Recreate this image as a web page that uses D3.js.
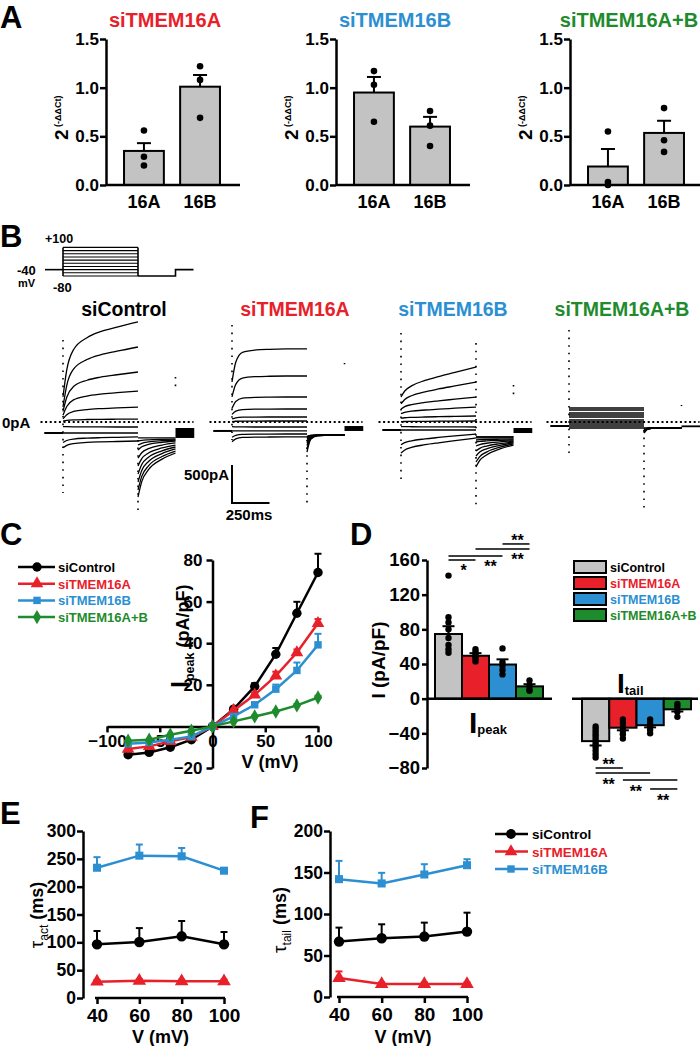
<!DOCTYPE html>
<html lang="en">
<head>
<meta charset="utf-8" />
<title>TMEM16A / TMEM16B knockdown</title>
<script src="https://d3js.org/d3.v7.min.js"></script>
<style>
  html, body { margin:0; padding:0; background-color:#fff; }
  svg { display:block; }
</style>
</head>
<body>
<svg id="svg" width="700" height="1046"></svg>
<script>
const FONT = "'Liberation Sans', Arial, sans-serif";
const colCtrl = "#000000", colA = "#e8202a", colB = "#2b8fd2", colAB = "#1e8b2c";

// ---------- A : qPCR ----------
let genes = ["16A", "16B"];
let qpcrTitles = ["siTMEM16A", "siTMEM16B", "siTMEM16A+B"];
let qpcrMean = [[0.35, 1.01], [0.95, 0.60], [0.19, 0.535]];
let qpcrSem = [[0.08, 0.12], [0.16, 0.10], [0.18, 0.125]];
let qpcrDots = [[[0.56, 0.29, 0.20], [1.22, 1.08, 0.69]],
                [[1.17, 1.03, 0.65], [0.76, 0.61, 0.40]],
                [[0.55, 0.03, 0.00], [0.79, 0.46, 0.34]]];
let qpcrTicks = [0, 0.5, 1.0, 1.5];

// ---------- B : current traces (pA) ----------
let stepMv = [100, 80, 60, 40, 20, 0, -20, -40, -60, -80];
let actT = [0, 25, 70, 160, 250, 360, 500];   // ms into the pulse
let tailT = [0, 25, 70, 160, 250];            // ms into the tail

let ctrlHold = -145;
let ctrlInst = [330, 200, 140, 90, 40, 10, -60, -145, -270, -340];
let ctrlEnd = [1316, 987, 658, 408, 197, 39, -66, -145, -197, -250];
let ctrlAct = [0, 0.36, 0.63, 0.79, 0.87, 0.93, 1];
let ctrlTailStart = [-987, -895, -789, -684, -579, -474, -368, -303, -250, -210];
let ctrlTailEnd = [-408, -382, -355, -329, -303, -276, -250, -237, -224, -210];
let ctrlTail = [0, 0.35, 0.62, 0.86, 1];
let ctrlPost = [-79, -210];
let ctrlSpikes = [[0, 1079, -934], [500, -237, -1197], [750, 592, 421]];

let aHold = -118;
let aInst = [526, 330, 180, 100, 40, 5, -60, -118, -200, -260];
let aEnd = [961, 605, 329, 171, 66, 13, -66, -118, -158, -197];
let aAct = [0, 0.6, 0.9, 0.97, 0.99, 1, 1];
let aTailStart = [-395, -350, -310, -280, -250, -230, -215, -200, -195, -190];
let aTailEnd = [-171, -171, -171, -171, -171, -171, -171, -171, -171, -171];
let aTail = [0, 0.75, 0.95, 1, 1];
let aPost = [-53, -118];
let aSpikes = [[0, 1276, -237], [500, -237, -1066], [750, 776, 760]];

let bHold = -105;
let bInst = [329, 240, 170, 110, 50, 5, -60, -105, -300, -408];
let bEnd = [724, 526, 329, 197, 79, 13, -66, -105, -158, -210];
let bAct = [0, 0.2, 0.37, 0.55, 0.68, 0.82, 1];
let bTailStart = [-592, -526, -447, -382, -316, -263, -237, -210, -197, -197];
let bTailEnd = [-303, -289, -276, -263, -250, -237, -224, -210, -197, -197];
let bTail = [0, 0.3, 0.55, 0.82, 1];
let bPost = [-79, -145];
let bSpikes = [[0, 1171, -803], [500, 1039, -1092], [750, 487, 329]];

let abHold = -53;
let abInst = [184, 158, 118, 92, 66, 26, 0, -26, -53, -79];
let abEnd = [184, 158, 118, 92, 66, 26, 0, -26, -53, -79];
let abAct = [0, 1, 1, 1, 1, 1, 1];
let abTailStart = [-145, -140, -135, -130, -125, -120, -110, -100, -90, -80];
let abTailEnd = [-79, -79, -79, -79, -79, -79, -79, -79, -79, -79];
let abTail = [0, 0.8, 1, 1, 1];
let abPost = [-45, -60];
let abSpikes = [[0, 1211, -408], [500, -105, -1158], [750, 224, 210]];

// ---------- C : I-V ----------
let volts = [-80, -60, -40, -20, 0, 20, 40, 60, 80, 100];
let ivCtrl = [-13.6, -12.5, -10, -6.4, 0, 8.3, 19.2, 34.7, 54.4, 74];
let ivCtrlErr = [0.8, 0.8, 0.8, 0.6, 0, 0.8, 1.6, 3, 5.5, 9];
let ivA = [-10.9, -9.6, -7.2, -5.1, 0, 7.7, 15.2, 24.3, 35.5, 49.6];
let ivAErr = [0.6, 0.6, 0.5, 0.4, 0, 0.5, 1, 2, 1.5, 2];
let ivB = [-8.3, -7.7, -6.4, -4.8, 0, 4.8, 10.4, 17.9, 26.9, 39.2];
let ivBErr = [0.6, 0.5, 0.5, 0.4, 0, 0.5, 0.8, 2.2, 3.8, 5.3];
let ivAB = [-6.9, -6.4, -4, -2.1, 0, 2.4, 4.8, 7.2, 10.1, 13.9];
let ivABErr = [0.4, 0.4, 0.3, 0.3, 0, 0.3, 0.4, 0.5, 0.6, 0.8];

// ---------- D : peak and tail densities ----------
let groups = ["siControl", "siTMEM16A", "siTMEM16B", "siTMEM16A+B"];
let peakMean = [74.6, 49.5, 39.4, 14.2];
let peakSem = [9, 3, 6, 2.5];
let peakDots = [[142, 94, 88, 80, 70, 62, 57, 53], [57, 54, 51, 49, 46, 43], [58, 42, 38, 33, 28], [21, 15, 11, 9]];
let tailMean = [-49, -33.5, -30.6, -12.3];
let tailSem = [5, 3, 2.5, 2.5];
let tailDots = [[-32, -35, -38, -41, -44, -47, -50, -53, -56, -60, -64, -68], [-24, -28, -33, -37, -41, -46], [-24, -28, -32, -36, -40], [-6, -9, -15, -21]];
let peakSig = [[0, 1, 160, "*", 1], [0, 2, 164.6, "**", 1], [1, 3, 172.7, "**", 1], [2, 3, 178.5, "**", -1]];
let tailSig = [[0, 1, -80, "**", -1], [0, 2, -85.8, "**", 1], [1, 3, -93.8, "**", 1], [2, 3, -104.2, "**", 1]];

// ---------- E / F : time constants ----------
let tauV = [40, 60, 80, 100];
let tauActCtrl = [96.4, 100.6, 110.8, 96.4];
let tauActCtrlErr = [24, 25, 27.5, 22.2];
let tauActA = [29.3, 31, 30, 30];
let tauActAErr = [3, 3, 3, 3];
let tauActB = [234, 255.7, 254.5, 228.7];
let tauActBErr = [19, 20, 15, 4];
let tauTailCtrl = [66.8, 70.8, 72.8, 78.8];
let tauTailCtrlErr = [16.8, 16.8, 16.8, 22.8];
let tauTailA = [22.8, 15.6, 15.6, 15.6];
let tauTailAErr = [8, 2, 2, 2];
let tauTailB = [142, 136.8, 147.6, 158.8];
let tauTailBErr = [22, 12.8, 12.4, 7.2];

let svg = d3.select("#svg");

function styleAxis(g, size) {
    g.attr("font-family", FONT).attr("font-size", size).attr("font-weight", "bold");
    g.selectAll(".domain").attr("stroke-width", 2.5);
    g.selectAll(".tick line").attr("stroke-width", 2.5);
}

function txt(parent, x, y, s, size, color, anchor) {
    return parent.append("text").attr("x", x).attr("y", y)
        .attr("font-family", FONT).attr("font-weight", "bold").attr("font-size", size)
        .attr("fill", color || "#000").attr("text-anchor", anchor || "start").text(s);
}

function errorBar(g, data, color, cap) {
    let e = g.append("g").attr("stroke", color).attr("stroke-width", 2);
    data.forEach(d => {
        e.append("line").attr("x1", d.x).attr("x2", d.x).attr("y1", d.y0).attr("y2", d.y1);
        e.append("line").attr("x1", d.x - cap / 2).attr("x2", d.x + cap / 2).attr("y1", d.y1).attr("y2", d.y1);
    });
}

// panel letters
[["A", 0, 28], ["B", 0, 247], ["C", 0, 545], ["D", 350, 545], ["E", 0, 824], ["F", 250, 828]]
    .forEach(d => txt(svg, d[1], d[2], d[0], 31));

// ================= A =================
let yA = d3.scaleLinear().domain([0, 1.5]).range([185, 39]);
let axA = [106, 336, 570];
let titleCol = [colA, colB, colAB];
qpcrTitles.forEach((title, k) => {
    let g = svg.append("g");
    let ax = axA[k];
    let x = d3.scaleBand().domain(genes).range([ax + 4, ax + 128]).paddingInner(0.29).paddingOuter(0.25);
    let cx = d => x(d) + x.bandwidth() / 2;
    g.selectAll(".bar").data(genes).join("rect").attr("class", "bar")
        .attr("x", d => x(d)).attr("width", x.bandwidth())
        .attr("y", (d, i) => yA(qpcrMean[k][i]))
        .attr("height", (d, i) => yA(0) - yA(qpcrMean[k][i]))
        .attr("fill", "#c3c3c3").attr("stroke", "#000").attr("stroke-width", 2);
    errorBar(g, genes.map((d, i) => ({x: cx(d), y0: yA(qpcrMean[k][i]), y1: yA(qpcrMean[k][i] + qpcrSem[k][i])})), "#000", 14);
    genes.forEach((d, i) => {
        g.append("g").selectAll("circle").data(qpcrDots[k][i]).join("circle")
            .attr("cx", cx(d)).attr("cy", v => yA(v)).attr("r", 3.3).attr("fill", "#000");
    });
    g.append("g").attr("transform", `translate(${ax},0)`)
        .call(d3.axisLeft(yA).tickValues(qpcrTicks).tickFormat(d3.format(".1f")).tickSize(6).tickPadding(1).tickSizeOuter(0))
        .call(styleAxis, 17);
    g.append("line").attr("x1", ax).attr("x2", ax + 134).attr("y1", yA(0)).attr("y2", yA(0))
        .attr("stroke", "#000").attr("stroke-width", 2.5);
    genes.forEach(d => txt(g, cx(d), 208, d, 18, "#000", "middle"));
    txt(g, ax + 59, 27, title, 20, titleCol[k], "middle");
    let yl = g.append("text").attr("transform", `translate(${ax - 38},140) rotate(-90)`)
        .attr("font-family", FONT).attr("font-weight", "bold");
    yl.append("tspan").attr("font-size", 19).text("2");
    yl.append("tspan").attr("font-size", 9).attr("dy", -7).text(" (-ΔΔCt)");
});

// ================= B =================
let tB = d3.scaleLinear().domain([0, 250]).range([0, 37.5]);
let iB = d3.scaleLinear().domain([0, 500]).range([422, 384]);
let vB = d3.scaleLinear().domain([-80, 100]).range([276, 247.4]);
let cellX = [63, 232, 401, 569];
let cellTitleX = [124, 295, 453, 622];

// voltage protocol
let gp = svg.append("g").attr("transform", `translate(${cellX[0]},0)`)
    .attr("stroke", "#000").attr("fill", "none").attr("stroke-width", 1.6);
gp.append("path").attr("d", d3.line()([[tB(-120), vB(-40)], [tB(0), vB(-40)]]));
stepMv.forEach(v => gp.append("line").attr("x1", tB(0)).attr("x2", tB(500))
    .attr("y1", vB(v)).attr("y2", vB(v)).attr("stroke-width", 1.1));
[0, 500].forEach(t => gp.append("line").attr("x1", tB(t)).attr("x2", tB(t))
    .attr("y1", vB(-80)).attr("y2", vB(100)));
gp.append("path").attr("d", d3.line()([[tB(500), vB(-80)], [tB(750), vB(-80)], [tB(750), vB(-40)], [tB(870), vB(-40)]]));
txt(svg, 45, 243, "+100", 12.5);
txt(svg, 17, 275, "-40", 13);
txt(svg, 18, 287, "mV", 11);
txt(svg, 53, 292, "-80", 13);

let traceCells = [
    {name: "siControl", color: colCtrl, hold: ctrlHold, inst: ctrlInst, end: ctrlEnd, act: ctrlAct, ts: ctrlTailStart, te: ctrlTailEnd, tail: ctrlTail, post: ctrlPost, spikes: ctrlSpikes},
    {name: "siTMEM16A", color: colA, hold: aHold, inst: aInst, end: aEnd, act: aAct, ts: aTailStart, te: aTailEnd, tail: aTail, post: aPost, spikes: aSpikes},
    {name: "siTMEM16B", color: colB, hold: bHold, inst: bInst, end: bEnd, act: bAct, ts: bTailStart, te: bTailEnd, tail: bTail, post: bPost, spikes: bSpikes},
    {name: "siTMEM16A+B", color: colAB, hold: abHold, inst: abInst, end: abEnd, act: abAct, ts: abTailStart, te: abTailEnd, tail: abTail, post: abPost, spikes: abSpikes}
];

let lineT = d3.line().x(d => tB(d[0])).y(d => iB(d[1])).curve(d3.curveMonotoneX);
traceCells.forEach((c, k) => {
    let g = svg.append("g").attr("transform", `translate(${cellX[k]},0)`);
    g.append("line").attr("x1", tB(-150)).attr("x2", tB(870)).attr("y1", iB(0)).attr("y2", iB(0))
        .attr("stroke", "#000").attr("stroke-width", 2).attr("stroke-dasharray", "2,2.6");
    g.append("line").attr("x1", tB(-125)).attr("x2", tB(0)).attr("y1", iB(c.hold)).attr("y2", iB(c.hold))
        .attr("stroke", "#000").attr("stroke-width", 2);
    let tr = g.append("g").attr("fill", "none").attr("stroke", "#000").attr("stroke-width", k == 3 ? 1.45 : 1.3);
    stepMv.forEach((v, j) => {
        let pts = actT.map((t, i) => [t, c.inst[j] + (c.end[j] - c.inst[j]) * c.act[i]]);
        tr.append("path").attr("d", lineT(pts));
        let tp = tailT.map((t, i) => [500 + t, c.ts[j] + (c.te[j] - c.ts[j]) * c.tail[i]]);
        tr.append("path").attr("d", lineT(tp));
    });
    g.append("rect").attr("x", tB(750)).attr("width", tB(875) - tB(750))
        .attr("y", iB(c.post[0])).attr("height", Math.max(1.8, iB(c.post[1]) - iB(c.post[0])))
        .attr("fill", "#000");
    c.spikes.forEach(s => g.append("line").attr("x1", tB(s[0])).attr("x2", tB(s[0]))
        .attr("y1", iB(s[1])).attr("y2", iB(s[2]))
        .attr("stroke", "#000").attr("stroke-width", 1.6).attr("stroke-dasharray", "1.6,6"));
    txt(svg, cellTitleX[k], 316, c.name, 19.5, c.color, "middle");
});
txt(svg, 2, 428, "0pA", 15);

// scale bar
let sb = svg.append("g").attr("transform", "translate(232,503)");
sb.append("path").attr("d", d3.line()([[0, iB(500) - iB(0)], [0, 0], [tB(250), 0]]))
    .attr("fill", "none").attr("stroke", "#000").attr("stroke-width", 2);
txt(svg, 229, 480, "500pA", 15, "#000", "end");
txt(svg, 249, 520, "250ms", 15, "#000", "middle");

// ================= C =================
let xC = d3.scaleLinear().domain([-100, 100]).range([107, 318]);
let yC = d3.scaleLinear().domain([-20, 80]).range([768, 560]);
let gC = svg.append("g");
gC.append("g").attr("transform", `translate(0,${yC(0)})`)
    .call(d3.axisBottom(xC).tickValues([-100, -50, 0, 50, 100]).tickSize(6).tickPadding(3).tickSizeOuter(0))
    .call(styleAxis, 17);
gC.append("g").attr("transform", `translate(${xC(0)},0)`)
    .call(d3.axisLeft(yC).tickValues([-20, 20, 40, 60, 80]).tickSize(6).tickPadding(4).tickSizeOuter(0))
    .call(styleAxis, 17);

let ivSeries = [
    {name: "siControl", color: colCtrl, sym: d3.symbolCircle, size: 70, v: ivCtrl, e: ivCtrlErr},
    {name: "siTMEM16A", color: colA, sym: d3.symbolTriangle, size: 70, v: ivA, e: ivAErr},
    {name: "siTMEM16B", color: colB, sym: d3.symbolSquare, size: 55, v: ivB, e: ivBErr},
    {name: "siTMEM16A+B", color: colAB, sym: d3.symbolDiamond, size: 60, v: ivAB, e: ivABErr}
];
function drawSeries(g, s, xs, ys, xv) {
    errorBar(g, xv.map((x, i) => ({x: xs(x), y0: ys(s.v[i]), y1: ys(s.v[i] + (s.v[i] < 0 ? -s.e[i] : s.e[i]))})), s.color, 7);
    g.append("path").attr("d", d3.line().x((d, i) => xs(xv[i])).y(d => ys(d))(s.v))
        .attr("fill", "none").attr("stroke", s.color).attr("stroke-width", 2.5);
    g.append("g").selectAll("path").data(s.v).join("path")
        .attr("transform", (d, i) => `translate(${xs(xv[i])},${ys(d)})`)
        .attr("d", d3.symbol(s.sym, s.size)).attr("fill", s.color);
}
ivSeries.forEach(s => drawSeries(gC, s, xC, yC, volts));
ivSeries.forEach((s, i) => {
    let y = 567 + i * 16.7;
    gC.append("line").attr("x1", 18).attr("x2", 55).attr("y1", y).attr("y2", y)
        .attr("stroke", s.color).attr("stroke-width", 2.5);
    gC.append("path").attr("transform", `translate(37,${y})`).attr("d", d3.symbol(s.sym, s.size)).attr("fill", s.color);
    txt(gC, 58, y + 5, s.name, 13, s.color);
});
// y label, anchored at its lower end
let ylC = gC.append("text").attr("transform", "translate(189,688) rotate(-90)")
    .attr("font-family", FONT).attr("font-weight", "bold");
ylC.append("tspan").attr("font-size", 25).text("I");
ylC.append("tspan").attr("font-size", 12.5).attr("dy", 5).text("peak");
ylC.append("tspan").attr("font-size", 18).attr("dy", -5).text(" (pA/pF)");
txt(gC, 270, 768, "V (mV)", 18, "#000", "middle");

// ================= D =================
let yD = d3.scaleLinear().domain([-80, 160]).range([768, 560]);
let xPeak = d3.scaleBand().domain(groups).range([435, 543]);
let xTail = d3.scaleBand().domain(groups).range([582, 691]);
let grpCol = [ "#c3c3c3", colA, colB, colAB ];
let gD = svg.append("g");
function barSet(xs, mean, sem, dots) {
    let cx = i => xs(groups[i]) + xs.bandwidth() / 2;
    gD.append("g").selectAll("rect").data(mean).join("rect")
        .attr("x", (d, i) => xs(groups[i])).attr("width", xs.bandwidth())
        .attr("y", d => Math.min(yD(d), yD(0))).attr("height", d => Math.abs(yD(d) - yD(0)))
        .attr("fill", (d, i) => grpCol[i]).attr("stroke", "#000").attr("stroke-width", 2);
    errorBar(gD, mean.map((m, i) => ({x: cx(i), y0: yD(m), y1: yD(m + (m < 0 ? -sem[i] : sem[i]))})), "#000", 12);
    dots.forEach((ds, i) => gD.append("g").selectAll("circle").data(ds).join("circle")
        .attr("cx", cx(i)).attr("cy", d => yD(d)).attr("r", 3.2).attr("fill", "#000"));
    return cx;
}
let cxP = barSet(xPeak, peakMean, peakSem, peakDots);
let cxT = barSet(xTail, tailMean, tailSem, tailDots);
gD.append("g").attr("transform", "translate(427,0)")
    .call(d3.axisLeft(yD).tickValues([-80, -40, 0, 40, 80, 120, 160]).tickSize(5).tickPadding(2).tickSizeOuter(0))
    .call(styleAxis, 18.5);
gD.append("line").attr("x1", 427).attr("x2", 552).attr("y1", yD(0)).attr("y2", yD(0)).attr("stroke", "#000").attr("stroke-width", 2.5);
gD.append("line").attr("x1", 572).attr("x2", 698).attr("y1", yD(0)).attr("y2", yD(0)).attr("stroke", "#000").attr("stroke-width", 2.5);
peakSig.forEach(s => {
    gD.append("line").attr("x1", cxP(s[0])).attr("x2", cxP(s[1])).attr("y1", yD(s[2])).attr("y2", yD(s[2]))
        .attr("stroke", "#000").attr("stroke-width", 1.5);
    txt(gD, cxP(s[1]) - 12, yD(s[2]) + (s[4] > 0 ? 16 : 2), s[3], 16, "#000", "middle");
});
tailSig.forEach(s => {
    gD.append("line").attr("x1", cxT(s[0])).attr("x2", cxT(s[1])).attr("y1", yD(s[2])).attr("y2", yD(s[2]))
        .attr("stroke", "#000").attr("stroke-width", 1.5);
    txt(gD, cxT(s[0]) + 13, yD(s[2]) + (s[4] > 0 ? 17 : 2), s[3], 16, "#000", "middle");
});
groups.forEach((gname, i) => {
    let y = 567 + i * 16;
    gD.append("rect").attr("x", 574).attr("y", y - 6).attr("width", 32).attr("height", 12)
        .attr("fill", grpCol[i]).attr("stroke", "#000").attr("stroke-width", 2);
    txt(gD, 610, y + 5, gname, 12.5, i == 0 ? "#000" : grpCol[i]);
});
gD.append("text").attr("transform", "translate(385,660) rotate(-90)")
    .attr("text-anchor", "middle").attr("font-family", FONT).attr("font-weight", "bold").attr("font-size", 19)
    .text("I (pA/pF)");
let lp = txt(gD, 469, 733, "", 30);
lp.append("tspan").text("I");
lp.append("tspan").attr("font-size", 13).attr("dy", 1).text("peak");
let lt = txt(gD, 617, 693, "", 28);
lt.append("tspan").text("I");
lt.append("tspan").attr("font-size", 13).attr("dy", 2).text("tail");

// ================= E / F =================
function tauPanel(xs, ys, axisX, yTicks, series, sub, labX, labY) {
    let g = svg.append("g");
    g.append("g").attr("transform", `translate(${axisX},0)`)
        .call(d3.axisLeft(ys).tickValues(yTicks).tickSize(6).tickPadding(1).tickSizeOuter(0))
        .call(styleAxis, 17.5);
    let xa = g.append("g").attr("transform", `translate(0,${ys(0)})`)
        .call(d3.axisBottom(xs).tickValues(tauV).tickSize(6).tickPadding(5).tickSizeOuter(0))
        .call(styleAxis, 19);
    xa.select(".domain").attr("d", `M${xs(40) - 2},0H${xs(100) + 1}`);
    series.forEach(s => drawSeries(g, s, xs, ys, tauV));
    txt(g, (xs(40) + xs(100)) / 2, 1043, "V (mV)", 18, "#000", "middle");
    let yl = g.append("text").attr("transform", `translate(${labX},${labY}) rotate(-90)`)
        .attr("text-anchor", "middle").attr("font-family", FONT).attr("font-weight", "bold");
    yl.append("tspan").attr("font-size", 19).attr("font-weight", "normal").text("τ");
    yl.append("tspan").attr("font-size", 12).attr("font-weight", "normal").attr("dy", 5).text(sub);
    yl.append("tspan").attr("font-size", 18).attr("dy", -5).text(" (ms)");
    return g;
}
let xE = d3.scaleLinear().domain([40, 100]).range([97, 224]);
let yE = d3.scaleLinear().domain([0, 300]).range([998, 831]);
tauPanel(xE, yE, 83, [0, 50, 100, 150, 200, 250, 300], [
    {name: "siTMEM16B", color: colB, sym: d3.symbolSquare, size: 65, v: tauActB, e: tauActBErr},
    {name: "siTMEM16A", color: colA, sym: d3.symbolTriangle, size: 80, v: tauActA, e: tauActAErr},
    {name: "siControl", color: colCtrl, sym: d3.symbolCircle, size: 85, v: tauActCtrl, e: tauActCtrlErr}
], "act", 43, 915);

let xF = d3.scaleLinear().domain([40, 100]).range([339, 467]);
let yF = d3.scaleLinear().domain([0, 200]).range([997, 831]);
let tauTailSeries = [
    {name: "siControl", color: colCtrl, sym: d3.symbolCircle, size: 85, v: tauTailCtrl, e: tauTailCtrlErr},
    {name: "siTMEM16A", color: colA, sym: d3.symbolTriangle, size: 80, v: tauTailA, e: tauTailAErr},
    {name: "siTMEM16B", color: colB, sym: d3.symbolSquare, size: 65, v: tauTailB, e: tauTailBErr}
];
let gF = tauPanel(xF, yF, 330, [0, 50, 100, 150, 200], tauTailSeries.slice().reverse(), "tail", 286, 920);
tauTailSeries.forEach((s, i) => {
    let y = 834 + i * 17.5;
    gF.append("line").attr("x1", 495).attr("x2", 528).attr("y1", y).attr("y2", y)
        .attr("stroke", s.color).attr("stroke-width", 2.5);
    gF.append("path").attr("transform", `translate(511,${y})`).attr("d", d3.symbol(s.sym, s.size - 10)).attr("fill", s.color);
    txt(gF, 532, y + 5, s.name, 13.5, s.color);
});
</script>
</body>
</html>
